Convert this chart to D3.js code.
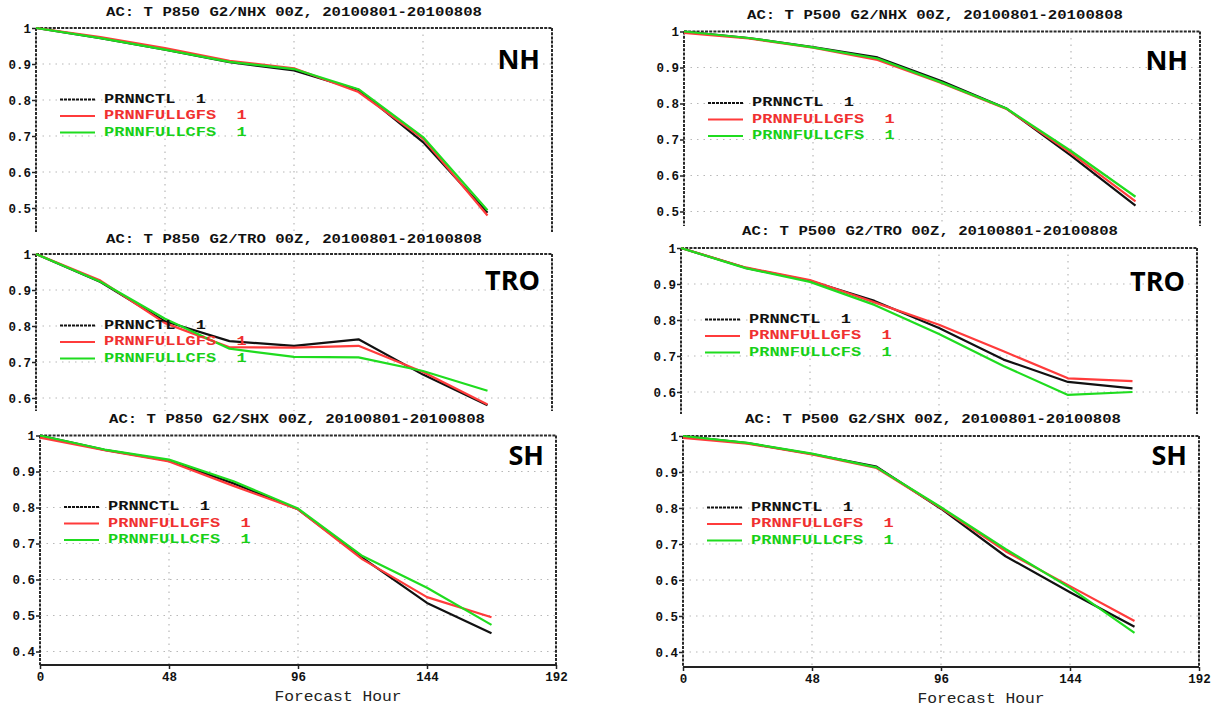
<!DOCTYPE html>
<html>
<head>
<meta charset="utf-8">
<script src="https://cdn.jsdelivr.net/npm/d3@7"></script>
<style>
  html, body { margin: 0; padding: 0; background: #fff; }
  svg { display: block; }
  .pre { white-space: pre; }
</style>
</head>
<body>
<svg id="chart" width="1219" height="707"></svg>
<script>
// ---------------- data ----------------
const hours = [0, 24, 48, 72, 96, 120, 144, 168];
const xTickValues = [0, 48, 96, 144, 192];
const xGridValues = [48, 96, 144];
const legendLabels = ["PRNNCTL  1", "PRNNFULLGFS  1", "PRNNFULLCFS  1"];
const seriesColors = ["#111111", "#ff3b3b", "#1fdc1f"];
const legendTextColors = ["#111111", "#f03030", "#18d018"];

const titles = [
  "AC: T P850 G2/NHX 00Z, 20100801-20100808",
  "AC: T P500 G2/NHX 00Z, 20100801-20100808",
  "AC: T P850 G2/TRO 00Z, 20100801-20100808",
  "AC: T P500 G2/TRO 00Z, 20100801-20100808",
  "AC: T P850 G2/SHX 00Z, 20100801-20100808",
  "AC: T P500 G2/SHX 00Z, 20100801-20100808"
];
const regionLabels = ["NH", "NH", "TRO", "TRO", "SH", "SH"];

const yTicksNH = [0.5, 0.6, 0.7, 0.8, 0.9, 1];
const yTicksTRO = [0.6, 0.7, 0.8, 0.9, 1];
const yTicksSH = [0.4, 0.5, 0.6, 0.7, 0.8, 0.9, 1];

// P850 NH
const p850NH_ctl = [1, 0.972, 0.940, 0.905, 0.882, 0.828, 0.683, 0.487];
const p850NH_gfs = [1, 0.975, 0.944, 0.909, 0.888, 0.822, 0.693, 0.479];
const p850NH_cfs = [1, 0.972, 0.940, 0.906, 0.886, 0.830, 0.697, 0.494];
// P500 NH
const p500NH_ctl = [1, 0.982, 0.957, 0.928, 0.862, 0.786, 0.655, 0.516];
const p500NH_gfs = [0.996, 0.981, 0.955, 0.921, 0.856, 0.785, 0.662, 0.528];
const p500NH_cfs = [1, 0.982, 0.956, 0.925, 0.858, 0.786, 0.668, 0.541];
// P850 TRO
const p850TRO_ctl = [1, 0.922, 0.813, 0.758, 0.745, 0.763, 0.665, 0.580];
const p850TRO_gfs = [1, 0.926, 0.808, 0.741, 0.740, 0.745, 0.672, 0.582];
const p850TRO_cfs = [1, 0.923, 0.820, 0.737, 0.714, 0.713, 0.675, 0.620];
// P500 TRO
const p500TRO_ctl = [1, 0.945, 0.909, 0.853, 0.778, 0.690, 0.628, 0.610];
const p500TRO_gfs = [1, 0.946, 0.911, 0.849, 0.787, 0.713, 0.638, 0.630];
const p500TRO_cfs = [1, 0.944, 0.906, 0.842, 0.761, 0.672, 0.592, 0.600];
// P850 SH
const p850SH_ctl = [1, 0.960, 0.930, 0.867, 0.795, 0.660, 0.535, 0.451];
const p850SH_gfs = [0.994, 0.959, 0.928, 0.860, 0.795, 0.656, 0.551, 0.495];
const p850SH_cfs = [1, 0.961, 0.933, 0.873, 0.797, 0.665, 0.577, 0.474];
// P500 SH
const p500SH_ctl = [1, 0.980, 0.950, 0.915, 0.798, 0.666, 0.566, 0.470];
const p500SH_gfs = [0.995, 0.979, 0.949, 0.911, 0.800, 0.680, 0.583, 0.486];
const p500SH_cfs = [1, 0.981, 0.951, 0.913, 0.802, 0.686, 0.578, 0.453];

// ---------------- layout ----------------
const panels = [
  { series: [p850NH_ctl, p850NH_gfs, p850NH_cfs], yTicks: yTicksNH, left: 36, top: 28, bottom: 232, axis: false, titleX: 294, titleY: 13, labelY: 69 },
  { series: [p500NH_ctl, p500NH_gfs, p500NH_cfs], yTicks: yTicksNH, left: 684, top: 31.5, bottom: 226, axis: false, titleX: 935, titleY: 15.5, labelY: 69.5 },
  { series: [p850TRO_ctl, p850TRO_gfs, p850TRO_cfs], yTicks: yTicksTRO, left: 36, top: 254, bottom: 411, axis: false, titleX: 294, titleY: 239.5, labelY: 289.5 },
  { series: [p500TRO_ctl, p500TRO_gfs, p500TRO_cfs], yTicks: yTicksTRO, left: 681, top: 248, bottom: 414, axis: false, titleX: 930, titleY: 232, labelY: 290.5 },
  { series: [p850SH_ctl, p850SH_gfs, p850SH_cfs], yTicks: yTicksSH, left: 40, top: 435.5, bottom: 665, axis: true, titleX: 297, titleY: 420, labelY: 464.5 },
  { series: [p500SH_ctl, p500SH_gfs, p500SH_cfs], yTicks: yTicksSH, left: 683, top: 436, bottom: 667, axis: true, titleX: 933, titleY: 420, labelY: 464.5 }
];
const plotWidth = 516;
const pxPerTenth = 36;

const svg = d3.select("#chart");
svg.append("rect").attr("width", 1219).attr("height", 707).attr("fill", "#fff");

const monoFont = "'Liberation Mono', 'DejaVu Sans Mono', monospace";

panels.forEach((p, pi) => {
  const g = svg.append("g");
  const right = p.left + plotWidth;
  const yLow = 1 - (p.bottom - p.top) / (pxPerTenth * 10);
  const x = d3.scaleLinear().domain([0, 192]).range([p.left, right]);
  const y = d3.scaleLinear().domain([yLow, 1]).range([p.bottom, p.top]);

  // grid
  g.selectAll(".hgrid").data(p.yTicks.filter(v => v < 1)).join("line")
    .attr("x1", p.left).attr("x2", right)
    .attr("y1", d => y(d)).attr("y2", d => y(d))
    .attr("stroke", "#b8b8b8").attr("stroke-width", 1.2)
    .attr("stroke-dasharray", "1.5,5");
  g.selectAll(".vgrid").data(xGridValues).join("line")
    .attr("x1", d => x(d)).attr("x2", d => x(d))
    .attr("y1", p.top).attr("y2", p.bottom)
    .attr("stroke", "#b8b8b8").attr("stroke-width", 1.2)
    .attr("stroke-dasharray", "1.5,5");

  // y axis
  const yAxis = d3.axisLeft(y).tickValues(p.yTicks).tickSize(4).tickPadding(1)
    .tickFormat(d => d === 1 ? "1" : d3.format(".1f")(d));
  const ya = g.append("g").attr("transform", `translate(${p.left},0)`).call(yAxis);
  ya.select(".domain").remove();
  ya.selectAll("line").attr("stroke", "#222").attr("stroke-width", 1.5);
  ya.selectAll("text").attr("font-family", monoFont).attr("font-weight", "bold")
    .attr("font-size", 12.5).attr("fill", "#111");

  // x axis
  if (p.axis) {
    const xAxis = d3.axisBottom(x).tickValues(xTickValues).tickSize(4).tickPadding(3);
    const xa = g.append("g").attr("transform", `translate(0,${p.bottom})`).call(xAxis);
    xa.select(".domain").remove();
    xa.selectAll("line").attr("stroke", "#222").attr("stroke-width", 1.5);
    xa.selectAll("text").attr("font-family", monoFont).attr("font-weight", "bold")
      .attr("font-size", 12.5).attr("fill", "#111");
    g.append("text")
      .attr("x", (p.left + right) / 2 + 40).attr("y", p.bottom + 32)
      .attr("text-anchor", "middle").attr("dominant-baseline", "central")
      .attr("font-family", monoFont).attr("font-size", 14).attr("fill", "#222")
      .attr("textLength", 127).attr("lengthAdjust", "spacingAndGlyphs")
      .text("Forecast Hour");
  }

  // frame
  const frameStyle = sel => sel.attr("stroke", "#2a2a2a").attr("stroke-width", 2)
    .attr("stroke-dasharray", "3,1.2").attr("fill", "none");
  g.append("line").attr("x1", p.left).attr("x2", right).attr("y1", p.top).attr("y2", p.top).call(frameStyle);
  g.append("line").attr("x1", p.left).attr("x2", p.left).attr("y1", p.top).attr("y2", p.bottom).call(frameStyle);
  g.append("line").attr("x1", right).attr("x2", right).attr("y1", p.top).attr("y2", p.bottom).call(frameStyle);
  if (p.axis) {
    g.append("line").attr("x1", p.left).attr("x2", right).attr("y1", p.bottom).attr("y2", p.bottom)
      .attr("stroke", "#222").attr("stroke-width", 2).attr("fill", "none");
  }

  // series lines
  const line = d3.line().x((d, i) => x(hours[i])).y(d => y(d));
  p.series.forEach((s, si) => {
    g.append("path").datum(s).attr("d", line)
      .attr("fill", "none").attr("stroke", seriesColors[si])
      .attr("stroke-width", 2.2).attr("stroke-linejoin", "round");
  });

  // legend
  const legOffsets = [71.5, 88, 104.5];
  legendLabels.forEach((lab, li) => {
    const ly = p.top + legOffsets[li];
    g.append("line")
      .attr("x1", p.left + 24).attr("x2", p.left + 59)
      .attr("y1", ly).attr("y2", ly)
      .attr("stroke", seriesColors[li]).attr("stroke-width", 2)
      .attr("stroke-dasharray", li === 0 ? "3,1" : null);
    g.append("text")
      .attr("class", "pre")
      .attr("xml:space", "preserve")
      .attr("x", p.left + 68).attr("y", ly)
      .attr("dominant-baseline", "central")
      .attr("font-family", monoFont).attr("font-weight", "bold").attr("font-size", 12.5)
      .attr("fill", legendTextColors[li])
      .attr("textLength", lab.length * 10.2).attr("lengthAdjust", "spacingAndGlyphs")
      .text(lab);
  });

  // title
  g.append("text")
    .attr("x", p.titleX).attr("y", p.titleY)
    .attr("text-anchor", "middle").attr("dominant-baseline", "central")
    .attr("font-family", monoFont).attr("font-weight", "bold").attr("font-size", 12.5)
    .attr("fill", "#111")
    .attr("textLength", 376).attr("lengthAdjust", "spacingAndGlyphs")
    .text(titles[pi]);

  // region label
  g.append("text")
    .attr("x", right - 12).attr("y", p.labelY)
    .attr("text-anchor", "end")
    .attr("font-family", "'Open Sans', 'Noto Sans', sans-serif").attr("font-weight", "bold")
    .attr("font-size", 27).attr("fill", "#000")
    .text(regionLabels[pi]);
});
</script>
</body>
</html>
